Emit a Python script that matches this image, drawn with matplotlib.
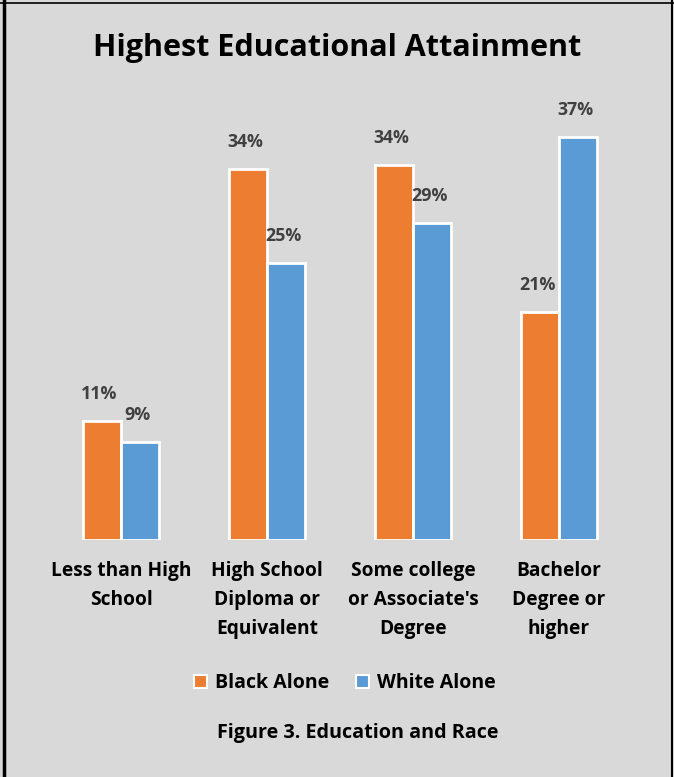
import matplotlib.pyplot as plt
import numpy as np
from matplotlib.lines import Line2D
from matplotlib.patches import Patch

categories = ["Less than High\nSchool", "High School\nDiploma or\nEquivalent",
              "Some college\nor Associate's\nDegree", "Bachelor\nDegree or\nhigher"]
black_alone = [10.9, 34.0, 34.4, 20.9]
white_alone = [9.0, 25.4, 29.1, 37.0]
series_names = ["Black Alone", "White Alone"]

orange = "#ED7D31"
blue = "#5B9BD5"
bg = "#D9D9D9"

plt.rcParams['font.family'] = ['Open Sans', 'DejaVu Sans']

fig = plt.figure(figsize=(6.74, 7.77), dpi=100, facecolor=bg)
ax = fig.add_axes([48 / 674, 1 - 540 / 777, 584 / 674, 436 / 777])
ax.set_facecolor(bg)

x = np.arange(len(categories))
w = 0.26
b1 = ax.bar(x - w / 2, black_alone, w, color=orange, edgecolor="white", linewidth=2, label=series_names[0])
b2 = ax.bar(x + w / 2, white_alone, w, color=blue, edgecolor="white", linewidth=2, label=series_names[1])

for bars, vals in ((b1, black_alone), (b2, white_alone)):
    for r, v in zip(bars, vals):
        ax.annotate(f"{round(v)}%", (r.get_x() + r.get_width() / 2, v), xytext=(-2, 13),
                    textcoords="offset points", ha="center", va="bottom",
                    fontsize=12.8, fontweight="bold", color="#404040")

ax.set_xlim(-0.5, 3.5)
ax.set_ylim(0, 40)
ax.set_xticks(x)
ax.set_xticklabels(categories, fontsize=13.8, fontweight="bold", linespacing=1.62, va="top")
ax.tick_params(axis="x", length=0, pad=15)
ax.set_yticks([])
for s in ax.spines.values():
    s.set_visible(False)

fig.text(0.5, 1 - 48 / 777, "Highest Educational Attainment", ha="center", va="center",
         fontsize=22, fontweight="bold")

handles = [Patch(facecolor=orange, edgecolor="white", linewidth=1.5),
           Patch(facecolor=blue, edgecolor="white", linewidth=1.5)]
fig.legend(handles, series_names, loc="center", bbox_to_anchor=(345 / 674, 1 - 683 / 777),
           ncol=2, frameon=False, prop={'weight': 'bold', 'size': 14},
           handlelength=0.65, handleheight=0.65, handletextpad=0.4, columnspacing=1.4)

fig.text(358 / 674, 1 - 733 / 777, "Figure 3. Education and Race", ha="center", va="center",
         fontsize=14.2, fontweight="bold")

# outer border
fig.add_artist(Line2D([4 / 674, 4 / 674], [0, 1], color="black", lw=2.5, transform=fig.transFigure))
fig.add_artist(Line2D([672 / 674, 672 / 674], [0, 1], color="black", lw=1.5, transform=fig.transFigure))
fig.add_artist(Line2D([0, 1], [1 - 3 / 777, 1 - 3 / 777], color="black", lw=1.2, transform=fig.transFigure))

fig.savefig("out.png", dpi=100, facecolor=bg)
